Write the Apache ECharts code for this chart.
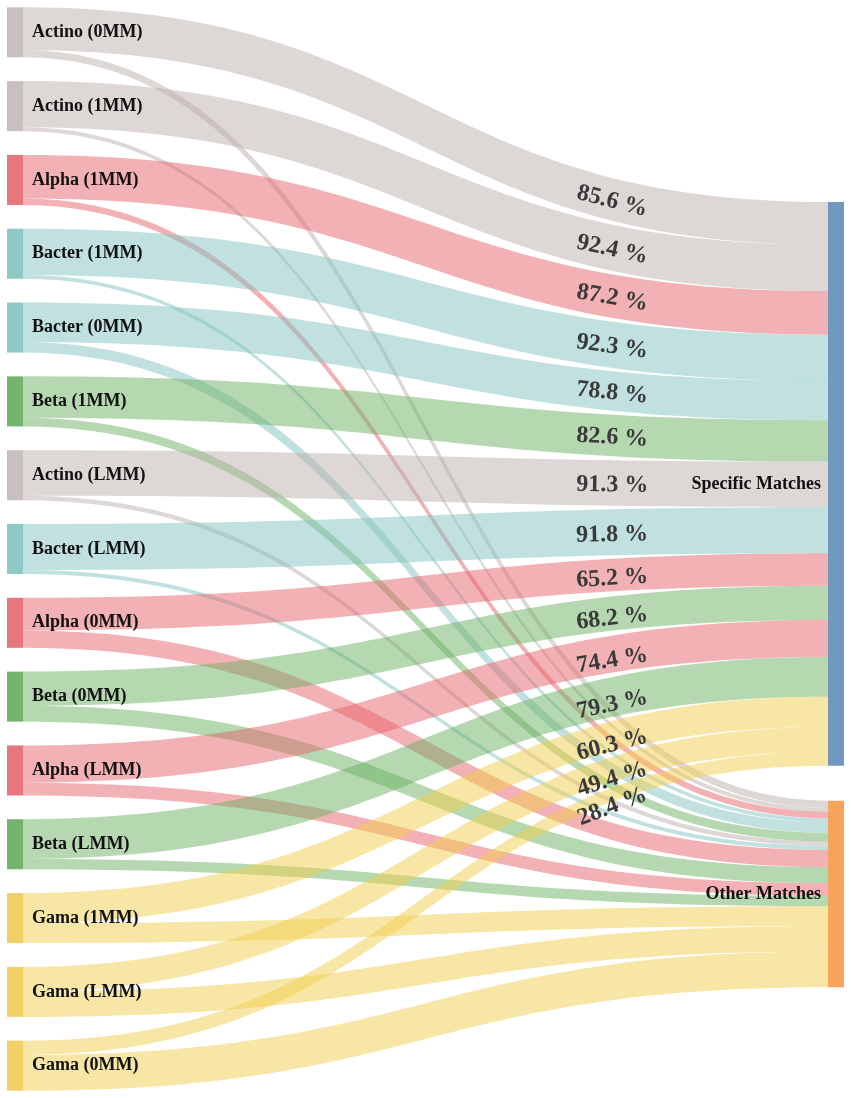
<!DOCTYPE html>
<html>
<head>
<meta charset="utf-8">
<script src="https://cdn.jsdelivr.net/npm/echarts@6/dist/echarts.min.js"></script>
<style>
  html, body { margin: 0; padding: 0; background: #fff; }
  #chart { width: 851px; height: 1098px; }
</style>
</head>
<body>
<div id="chart"></div>
<script>
// data
const sources = ['Actino (0MM)', 'Actino (1MM)', 'Alpha (1MM)', 'Bacter (1MM)', 'Bacter (0MM)',
  'Beta (1MM)', 'Actino (LMM)', 'Bacter (LMM)', 'Alpha (0MM)', 'Beta (0MM)',
  'Alpha (LMM)', 'Beta (LMM)', 'Gama (1MM)', 'Gama (LMM)', 'Gama (0MM)'];
const targets = ['Specific Matches', 'Other Matches'];
const specificPct = [85.6, 92.4, 87.2, 92.3, 78.8, 82.6, 91.3, 91.8, 65.2, 68.2, 74.4, 79.3, 60.3, 49.4, 28.4];
const otherPct = [14.4, 7.6, 12.8, 7.7, 21.2, 17.4, 8.7, 8.2, 34.8, 31.8, 25.6, 20.7, 39.7, 50.6, 71.6];

// styles
const nodeColors = {
  Actino: '#c7c0be', Alpha: '#e8777c', Bacter: '#8ec9c5', Beta: '#72b46d', Gama: '#f0d067',
  Specific: '#7398bf', Other: '#f5a55a'
};
const linkColors = {
  Actino: '#bbafab', Alpha: '#e56369', Bacter: '#81c3bf', Beta: '#6bb163', Gama: '#f1cd4d'
};
const targetTop = { 'Specific Matches': 0.1798, 'Other Matches': 0.7324 };
const serif = '"Liberation Serif", "Times New Roman", serif';

const chart = echarts.init(document.getElementById('chart'));

const nodes = sources.map(name => ({
  name: name,
  itemStyle: { color: nodeColors[name.split(' ')[0]] },
  label: { position: 'right', distance: 9 }
})).concat(targets.map(name => ({
  name: name,
  localY: targetTop[name],
  itemStyle: { color: nodeColors[name.split(' ')[0]] },
  label: { position: 'left', distance: 7 }
})));

function buildLinks(extra) {
  const links = [];
  sources.forEach((s, i) => {
    const col = linkColors[s.split(' ')[0]];
    links.push({
      source: s, target: targets[0], value: specificPct[i],
      lineStyle: { color: col },
      edgeLabel: Object.assign({
        show: true,
        formatter: '{c} %',
        fontFamily: serif,
        fontWeight: 'bold',
        fontSize: 24,
        color: '#3a3a3a'
      }, extra[links.length] || {})
    });
    links.push({
      source: s, target: targets[1], value: otherPct[i],
      lineStyle: { color: col }
    });
  });
  return links;
}

function makeOption(extra) {
  return {
    backgroundColor: '#fff',
    animation: false,
    series: [{
      type: 'sankey',
      left: 7, right: 7, top: 7.3, bottom: 7.3,
      nodeWidth: 16,
      nodeGap: 23.8,
      layoutIterations: 0,
      draggable: false,
      emphasis: { disabled: true },
      itemStyle: { borderWidth: 0 },
      lineStyle: { opacity: 0.5, curveness: 0.5 },
      label: {
        fontFamily: serif,
        fontWeight: 'bold',
        fontSize: 18,
        color: '#111'
      },
      data: nodes,
      links: buildLinks(extra)
    }]
  };
}

chart.setOption(makeOption({}));

// put each percentage on its band, about 3/4 of the way across, along the curve
function edgeLabelPlacement() {
  const extra = {};
  const series = chart.getModel().getSeriesByIndex(0);
  const graph = series.getGraph();
  const H = series.layoutInfo.height;
  const c = 0.5, t = 0.78;
  const bez = (a, b, d, e, t) => { const u = 1 - t; return u * u * u * a + 3 * u * u * t * b + 3 * u * t * t * d + t * t * t * e; };
  const dbez = (a, b, d, e, t) => { const u = 1 - t; return 3 * u * u * (b - a) + 6 * u * t * (d - b) + 3 * t * t * (e - d); };
  graph.edges.forEach(edge => {
    const idx = edge.dataIndex;
    if (idx % 2 !== 0) return;
    const n1 = edge.node1.getLayout();
    const n2 = edge.node2.getLayout();
    const el = edge.getLayout();
    const ly = edge.node2.getModel().get('localY');
    const x1 = n1.x + n1.dx;
    const y1 = n1.y + el.sy;
    const x2 = n2.x;
    const y3 = (ly != null ? ly * H : n2.y) + el.ty;
    const cp1 = x1 * (1 - c) + x2 * c;
    const cp2 = x1 * c + x2 * (1 - c);
    const px = bez(x1, cp1, cp2, x2, t);
    // rising bands carry their label a little lower, as in the original
    const py = bez(y1, y1, y3, y3, t) + el.dy / 2 + 2 + Math.max(0, y1 - y3) * 0.035;
    const ang = Math.atan2(dbez(y1, y1, y3, y3, t), dbez(x1, cp1, cp2, x2, t));
    const th = -ang;
    const cx = (x1 + x2) / 2;
    const cy = (Math.min(y1, y3) + Math.max(y1, y3) + el.dy) / 2;
    const wx = px - cx, wy = py - cy;
    extra[idx] = {
      rotate: th * 180 / Math.PI,
      offset: [wx * Math.cos(th) - wy * Math.sin(th), wx * Math.sin(th) + wy * Math.cos(th)]
    };
  });
  return extra;
}

chart.setOption(makeOption(edgeLabelPlacement()));
</script>
</body>
</html>
